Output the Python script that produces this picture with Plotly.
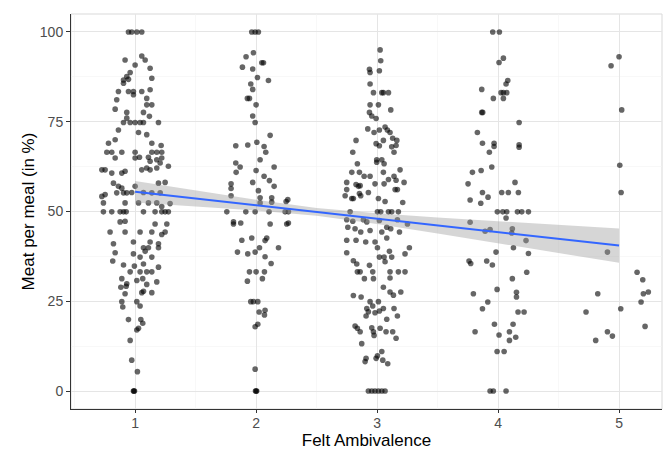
import plotly.graph_objects as go

# ---------------- data ----------------
g1_x = [0.945,0.972,1.014,1.055,1.055,0.917,1.0,1.083,1.124,0.959,0.931,0.904,0.945,0.904,1.138,
        0.862,0.945,0.986,1.055,0.986,1.124,1.096,0.848,1.096,1.138,0.835,0.931,1.069,1.118,0.931,
        0.904,0.959,1.0,1.041,1.069,1.193,0.862,1.028,1.096,0.835,0.78,1.138,1.215,0.766,0.807,
        0.89,1.0,1.138,1.179,1.22,0.835,1.0,1.036,1.11,1.124,1.179,1.22,1.207,0.725,0.752,
        0.807,0.89,0.917,1.055,1.096,1.124,1.179,1.275,0.821,1.193,1.248,0.862,0.89,1.0,0.848,
        0.904,0.931,0.972,1.069,1.138,1.207,0.725,0.752,0.738,0.917,1.028,1.11,1.179,1.289,1.22,
        0.738,0.807,0.876,0.904,0.926,1.069,1.165,1.22,1.248,1.275,0.876,0.917,1.165,1.262,0.793,
        0.917,1.041,1.138,1.248,1.22,0.986,1.124,0.821,1.193,1.069,1.11,1.193,0.835,0.986,1.041,
        1.138,1.083,0.815,0.904,0.994,1.069,1.193,0.959,1.041,1.096,1.138,0.89,1.014,1.063,1.179,
        0.931,0.882,0.926,1.096,1.055,0.917,1.138,1.069,0.89,1.014,0.898,1.041,0.945,1.047,1.063,
        1.028,1.014,0.959,0.972,1.019,0.986,0.99,0.995]
g1_y = [100,100,100,100,93.3,92.2,90.8,92.2,89.9,88.7,87.6,86.6,86.8,85.7,87.1,
        83.4,83.4,83.4,83.4,82.5,83.9,81.5,81.1,79.7,79.7,78.5,77.6,77.6,76.5,76.0,
        74.8,74.8,74.8,74.8,74.8,74.8,72.7,72.0,71.4,70.0,69.0,69.0,68.4,66.5,66.5,
        66.5,66.5,66.5,66.5,66.5,64.9,64.9,65.1,65.1,64.0,64.4,64.9,63.5,61.6,61.6,
        60.7,60.7,61.2,61.6,62.1,61.6,62.1,62.6,57.9,57.9,58.1,57.0,56.5,57.0,55.2,
        55.2,55.2,55.3,55.3,55.2,55.2,54.2,54.7,52.4,52.4,52.4,52.4,52.4,52.2,51.4,
        49.9,49.9,49.9,49.9,49.9,49.9,49.9,49.9,49.9,49.9,47.1,47.3,46.5,46.5,44.3,
        44.3,44.3,44.3,44.3,43.6,41.5,41.5,41.0,41.0,39.9,39.9,39.9,38.5,38.2,37.3,
        37.3,38.9,36.2,35.1,34.8,35.4,34.5,33.2,33.2,33.2,33.2,31.3,30.8,31.3,30.4,
        29.9,28.9,29.2,29.7,27.4,27.1,27.4,27.8,24.9,24.9,23.4,23.7,19.9,19.9,18.9,
        17.5,17.0,14.1,8.6,5.4,0,0,0]

g2_x = [1.964,1.992,2.019,1.978,1.917,2.047,2.061,1.887,1.972,2.011,2.102,1.956,1.972,1.928,1.945,
        2.0,1.972,1.992,2.116,2.006,1.832,1.931,2.066,2.08,2.033,1.832,1.868,1.835,2.149,2.0,
        2.066,2.11,1.793,1.972,2.149,1.793,2.019,1.793,2.033,2.129,2.033,2.129,2.248,2.262,
        1.758,1.915,1.992,2.107,2.24,2.267,1.813,1.813,1.873,2.116,2.253,2.267,1.882,1.964,2.074,
        2.088,2.028,2.185,1.846,1.931,1.992,2.074,2.124,1.945,2.0,2.069,2.052,1.928,1.956,1.978,
        2.014,2.025,2.074,2.069,2.014,1.992,1.992,1.995,2.0,2.005]
g2_y = [100,100,100,94.2,93.1,91.4,91.4,90.2,89.7,87.3,86.5,85.5,84.0,81.5,81.5,
        79.7,76.6,74.8,71.2,69.3,68.3,68.5,68.1,66.5,64.4,63.5,62.4,60.9,62.4,61.4,
        59.8,58.6,57.7,58.1,57.0,56.4,55.8,54.4,53.8,53.8,52.4,52.6,52.8,53.3,
        49.9,49.9,49.9,49.9,49.9,49.9,47.1,46.5,46.8,46.5,46.5,46.8,42.0,42.6,41.9,
        42.6,39.9,39.9,38.7,38.2,38.7,37.4,35.5,33.2,33.2,33.2,31.3,30.6,24.9,24.9,
        24.9,22.0,22.5,21.2,18.6,17.9,6.1,0,0,0]

g3_x = [3.025,3.03,2.937,2.942,3.019,2.942,2.97,3.039,3.052,3.094,2.942,3.011,3.113,2.937,2.956,
        2.992,2.923,2.975,3.019,3.066,3.085,3.107,2.826,3.052,2.992,3.019,3.129,3.163,3.121,3.157,
        2.799,3.14,2.837,2.997,3.039,2.997,3.058,2.791,2.854,2.893,2.942,3.052,3.19,3.14,2.749,
        2.826,2.846,2.86,2.983,3.058,3.094,3.157,3.223,2.749,2.928,2.854,2.865,2.736,2.791,2.804,
        3.011,3.149,3.168,3.066,3.212,
        2.777,3.003,3.03,3.094,3.121,3.176,2.749,2.799,2.887,2.915,3.019,3.168,3.251,2.758,2.818,
        2.865,2.942,3.08,3.113,3.039,3.185,2.749,2.826,2.906,2.983,3.08,3.003,3.267,3.231,3.102,
        2.749,3.019,3.058,3.121,3.066,2.804,2.832,2.937,2.837,2.86,2.964,3.107,3.176,3.231,2.895,
        2.97,3.107,3.052,2.804,2.868,3.107,3.135,3.196,2.942,3.011,2.964,2.915,2.928,2.983,3.052,
        3.14,2.909,3.019,3.168,3.08,2.818,2.837,2.86,2.956,2.97,2.975,3.025,3.074,3.129,3.157,
        2.873,3.039,3.003,2.992,2.909,2.901,3.047,3.088,2.928,2.956,2.983,3.011,3.039,3.066]
g3_y = [95.0,92.0,89.6,88.7,89.2,85.5,83.1,83.1,83.1,83.1,79.7,79.7,78.3,77.6,76.6,
        75.9,73.0,72.0,72.7,73.5,72.7,72.0,69.8,69.8,68.9,68.3,70.4,69.8,68.0,68.4,
        66.5,66.5,63.3,64.4,64.4,63.7,63.3,60.9,60.9,59.8,59.8,60.9,61.6,59.8,58.1,
        57.5,57.0,57.2,57.7,57.7,58.9,58.7,58.1,56.1,55.3,55.0,54.4,54.4,53.6,53.6,
        53.6,56.1,56.1,52.8,52.5,
        49.9,49.9,49.9,49.9,49.9,49.9,47.7,47.3,47.7,47.1,47.5,47.7,46.5,45.6,45.2,
        44.3,44.7,45.6,45.2,44.3,44.3,42.0,42.0,41.5,41.5,42.6,39.9,39.9,38.2,38.9,
        38.5,37.3,37.3,37.3,36.0,36.3,35.4,35.0,33.2,33.2,33.2,33.2,33.2,33.2,31.3,
        31.3,31.5,28.9,26.6,26.2,27.6,26.7,27.6,24.9,24.9,23.7,23.0,22.1,21.8,23.0,
        23.0,20.9,22.3,20.9,20.0,18.1,17.5,16.5,17.6,16.5,15.5,17.5,16.5,16.5,14.7,
        13.2,11.0,9.8,9.1,9.1,8.2,8.6,7.6,0,0,0,0,0,0]

g4_x = [3.956,4.011,4.044,4.008,4.08,4.066,3.865,4.025,4.044,4.072,3.961,4.044,3.865,3.873,4.174,
        3.829,3.871,3.967,3.967,4.174,4.174,3.928,3.948,3.86,3.788,4.14,3.752,3.871,4.03,4.085,
        4.168,3.917,3.769,3.857,
        3.994,4.039,4.072,4.16,4.196,4.251,4.066,3.769,3.893,3.934,4.118,4.113,4.231,3.983,4.127,
        4.251,3.76,3.774,3.906,3.953,4.118,4.237,3.796,3.992,4.152,4.152,3.915,3.871,4.165,4.215,
        3.97,4.124,3.81,4.008,4.094,4.094,4.146,3.992,4.05,3.934,3.961,4.066]
g4_y = [100,100,92.7,91.5,86.5,85.5,84.0,83.1,83.1,83.1,81.5,81.5,77.6,77.6,74.8,
        72.0,69.0,69.0,68.1,68.6,67.9,66.5,62.4,61.4,60.9,58.1,57.7,55.3,55.3,55.3,
        55.3,54.0,53.2,52.3,
        49.9,49.9,49.9,49.9,49.9,49.9,48.2,47.0,44.5,45.0,45.2,44.0,41.9,38.7,39.9,
        38.3,36.2,35.5,36.2,35.1,31.3,33.1,27.1,28.3,27.5,26.2,24.8,22.9,22.0,22.0,
        18.6,18.6,16.5,15.6,16.5,14.1,15.0,11.0,11.0,0,0,0]

g5_x = [5.0,4.934,5.022,5.006,5.017,4.904,5.149,5.196,5.201,5.242,5.182,4.824,5.014,4.727,5.215,
        4.904,4.945,4.807]
g5_y = [93.1,90.6,78.3,62.9,55.3,38.7,33.1,31.0,27.1,27.6,24.8,27.1,22.9,22.0,18.0,
        16.5,15.3,14.1]

# linear fit (geom_smooth, method = "lm") and its confidence band
fit_x = [1, 1.5, 2, 2.5, 3, 3.5, 4, 4.5, 5]
fit_y = [55.5, 53.6, 51.8, 49.9, 48.0, 46.1, 44.3, 42.4, 40.5]
fit_lo = [52.5, 51.4, 50.3, 48.8, 46.5, 43.9, 41.3, 38.5, 35.7]
fit_hi = [58.5, 55.8, 53.3, 51.0, 49.5, 48.3, 47.3, 46.3, 45.3]

x_ticks = [1, 2, 3, 4, 5]
y_ticks = [0, 25, 50, 75, 100]

# ---------------- figure ----------------
all_x = g1_x + g2_x + g3_x + g4_x + g5_x
all_y = g1_y + g2_y + g3_y + g4_y + g5_y

fig = go.Figure()
fig.add_trace(go.Scatter(
    x=all_x, y=all_y, mode="markers",
    marker=dict(color="rgba(0,0,0,0.6)", size=5.6, line=dict(width=0)),
    hoverinfo="skip", showlegend=False))
fig.add_trace(go.Scatter(
    x=fit_x + fit_x[::-1], y=fit_hi + fit_lo[::-1], mode="lines",
    fill="toself", fillcolor="rgba(153,153,153,0.4)", line=dict(width=0),
    hoverinfo="skip", showlegend=False))
fig.add_trace(go.Scatter(
    x=fit_x, y=fit_y, mode="lines",
    line=dict(color="#3366FF", width=2), hoverinfo="skip", showlegend=False))

font_family = "Liberation Sans, Arial, sans-serif"
fig.update_layout(
    width=666, height=450,
    margin=dict(l=71, r=4, t=14, b=41, autoexpand=False),
    paper_bgcolor="white", plot_bgcolor="white",
    font=dict(family=font_family),
    shapes=[dict(type="rect", xref="paper", yref="paper", x0=0, y0=0, x1=1, y1=1,
                 line=dict(color="#D9D9D9", width=1), layer="below")],
)
fig.update_xaxes(
    automargin=False,
    range=[0.47, 5.355], tickmode="array", tickvals=x_ticks,
    ticktext=[str(v) for v in x_ticks],
    showgrid=True, gridcolor="#E5E5E5", gridwidth=1,
    minor=dict(dtick=0.5, tick0=0.5, showgrid=True, gridcolor="#F3F3F3", gridwidth=0.6),
    showline=True, linecolor="#333333", linewidth=1,
    ticks="outside", ticklen=3, tickcolor="#333333",
    ticklabelstandoff=-2,
    tickfont=dict(size=14, color="#4D4D4D"),
    zeroline=False,
    title=dict(text="Felt Ambivalence", font=dict(size=17, color="black"), standoff=2),
)
fig.update_yaxes(
    automargin=False,
    range=[-5, 105], tickmode="array", tickvals=y_ticks,
    ticktext=[str(v) for v in y_ticks],
    showgrid=True, gridcolor="#E5E5E5", gridwidth=1,
    minor=dict(dtick=12.5, tick0=0, showgrid=True, gridcolor="#F3F3F3", gridwidth=0.6),
    showline=True, linecolor="#333333", linewidth=1,
    ticks="outside", ticklen=4, tickcolor="#333333",
    tickfont=dict(size=14, color="#4D4D4D"),
    zeroline=False,
    title=dict(text="Meat per meal (in %)", font=dict(size=17, color="black"), standoff=0),
)

fig.write_html(
    "out.html",
    config={"displayModeBar": False, "staticPlot": True},
    post_script="document.body.style.margin='0';document.body.style.overflow='hidden';",
)
